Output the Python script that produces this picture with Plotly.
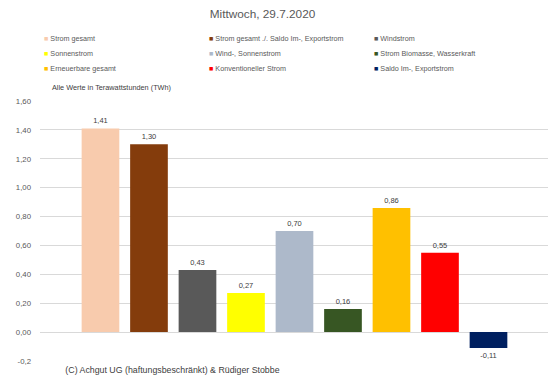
import plotly.graph_objects as go

categories = ["Strom gesamt", "Strom gesamt ./. Saldo Im-, Exportstrom", "Windstrom",
              "Sonnenstrom", "Wind-, Sonnenstrom", "Strom Biomasse, Wasserkraft",
              "Erneuerbare gesamt", "Konventioneller Strom", "Saldo Im-, Exportstrom"]
values = [1.41, 1.30, 0.43, 0.27, 0.70, 0.16, 0.86, 0.55, -0.11]
colors = ["#F8CBAD", "#843C0C", "#595959", "#FFFF00", "#ADB9CA", "#375623",
          "#FFC000", "#FF0000", "#002060"]
tick_vals = [-0.2, 0.0, 0.2, 0.4, 0.6, 0.8, 1.0, 1.2, 1.4, 1.6]
tick_text = ["-0,2", "0,00", "0,20", "0,40", "0,60", "0,80", "1,00", "1,20", "1,40", "1,60"]

FONT = "Liberation Sans, Arial, sans-serif"
W, H = 550, 382
L, R, T, B = 40, 2, 101, 21
pw, ph = W - L - R, H - T - B

def px_x(p):
    return (p - L) / pw

def px_y(p):
    return (H - B - p) / ph

fig = go.Figure()
fig.add_trace(go.Bar(
    x=categories, y=values, marker=dict(color=colors, line=dict(width=0)),
    width=0.777, texttemplate="%{y:.2f}", textposition="outside",
    textfont=dict(size=7.5, color="#404040", family=FONT), cliponaxis=False,
    showlegend=False, hoverinfo="skip"))

legend_names = ["legend", "legend2", "legend3"]
for i, (name, col) in enumerate(zip(categories, colors)):
    fig.add_trace(go.Scatter(
        x=[None], y=[None], mode="markers",
        marker=dict(size=1, color="rgba(0,0,0,0)"),
        name=f"<span style='color:{col}'>■</span> {name}",
        legend=legend_names[i // 3], showlegend=True))

leg_common = dict(orientation="h", xanchor="left", yanchor="middle",
                  bgcolor="rgba(0,0,0,0)", entrywidth=120, entrywidthmode="pixels",
                  font=dict(size=7.2, color="#595959", family=FONT), x=px_x(4))
fig.update_layout(
    legend=dict(y=px_y(38), **leg_common),
    legend2=dict(y=px_y(53), **leg_common),
    legend3=dict(y=px_y(68), **leg_common),
)

fig.update_layout(
    width=W, height=H, margin=dict(l=L, r=R, t=T, b=B, autoexpand=False),
    paper_bgcolor="white", plot_bgcolor="white",
    separators=",.",
    title=dict(text="Mittwoch, 29.7.2020", x=262.5 / W, xanchor="center",
               y=1 - 14 / H, yanchor="middle",
               font=dict(size=11.8, color="#595959", family=FONT)),
    xaxis=dict(type="category", range=[-1.247, 9.227], showticklabels=False,
               showgrid=False, zeroline=False, showline=False, ticks=""),
    yaxis=dict(range=[-0.2, 1.6], tickvals=tick_vals, ticktext=tick_text,
               showgrid=True, gridcolor="#D9D9D9", gridwidth=1,
               zeroline=True, zerolinecolor="#D9D9D9", zerolinewidth=1,
               showline=False, ticks="", ticklabelstandoff=8,
               tickfont=dict(size=7.8, color="#595959", family=FONT)),
    barmode="overlay",
    showlegend=True,
    annotations=[
        dict(text="Alle Werte in Terawattstunden (TWh)", xref="paper", yref="paper",
             x=px_x(50), y=px_y(88), xanchor="left", yanchor="middle", showarrow=False,
             font=dict(size=7.3, color="#404040", family=FONT)),
        dict(text="(C) Achgut UG (haftungsbeschränkt) &amp; Rüdiger Stobbe",
             xref="paper", yref="paper", x=px_x(172.5), y=px_y(370),
             xanchor="center", yanchor="middle", showarrow=False,
             width=265, height=18, bgcolor="white", align="center",
             font=dict(size=8.8, color="#404040", family=FONT)),
    ],
)

fig.write_html("out.html", config={"displayModeBar": False},
               post_script="document.body.style.margin='0';document.body.style.padding='0';")
